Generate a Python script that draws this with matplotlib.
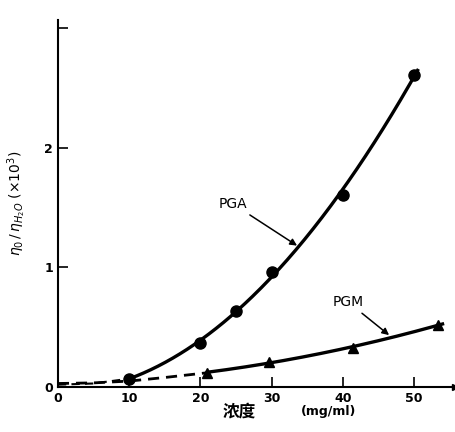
import numpy as np
import matplotlib
matplotlib.use('Agg')
import matplotlib.pyplot as plt

plt.rcParams['font.family'] = ['DejaVu Sans', 'Noto Sans CJK SC']

# data
pga_x = [10, 20, 25, 30, 40, 50]
pga_y = [0.07, 0.37, 0.64, 0.96, 1.61, 2.61]
pgm_x = [21, 29.6, 41.4, 53.4]
pgm_y = [0.12, 0.21, 0.33, 0.52]
dash_x = [0, 5, 10, 15, 21]
dash_y = [0.03, 0.035, 0.05, 0.08, 0.12]
pga_dash_x = [0, 5, 10]
pga_dash_y = [0.02, 0.03, 0.07]
xticks = [0, 10, 20, 30, 40, 50]
yticks = [0, 1, 2]

fig = plt.figure(figsize=(4.56, 4.32), dpi=100)
ax = fig.add_axes([0.127, 0.104, 0.87, 0.85])

# smooth curves through the points
c1 = np.polyfit(pga_x, pga_y, 2)
xs = np.linspace(10, 50.5, 200)
ax.plot(xs, np.polyval(c1, xs), color='black', lw=2.4)
c2 = np.polyfit(pgm_x, pgm_y, 2)
xs2 = np.linspace(21, 54, 200)
ax.plot(xs2, np.polyval(c2, xs2), color='black', lw=2.4)
ax.plot(dash_x, dash_y, color='black', lw=2, ls=(0, (4, 2.5)))
ax.plot(pga_dash_x, pga_dash_y, color='black', lw=1.5, ls=(0, (4, 2.5)))

ax.plot(pga_x, pga_y, 'o', color='black', ms=8)
ax.plot(pgm_x, pgm_y, '^', color='black', ms=7)

ax.annotate('PGA', xy=(33.9, 1.17), xytext=(22.5, 1.50), fontsize=10,
            arrowprops=dict(arrowstyle='-|>', color='black', lw=1.1))
ax.annotate('PGM', xy=(46.8, 0.42), xytext=(38.5, 0.68), fontsize=10,
            arrowprops=dict(arrowstyle='-|>', color='black', lw=1.1))

ax.set_xlim(0, 55.7)
ax.set_ylim(0, 3.07)
ax.set_xticks(xticks)
ax.set_yticks(yticks + [3])
ax.set_yticklabels([str(v) for v in yticks] + [''])
ax.tick_params(direction='in', length=7, width=1.2, labelsize=9)
for lab in ax.get_xticklabels() + ax.get_yticklabels():
    lab.set_fontweight('bold')
ax.spines['top'].set_visible(False)
ax.spines['right'].set_visible(False)
ax.spines['left'].set_linewidth(1.5)
ax.spines['bottom'].set_linewidth(1.5)
ax.plot(1, 0, '>', color='black', ms=5, transform=ax.transAxes, clip_on=False)

ax.set_ylabel(r'$\eta_0\,/\,\eta_{H_2O}\ (\times10^3)$', fontsize=10, labelpad=12)
fig.text(0.525, 0.035, '浓度', fontsize=12, family=['Noto Sans CJK SC'], ha='center', fontweight='bold')
fig.text(0.72, 0.04, '(mg/ml)', fontsize=9, ha='center', fontweight='bold')

fig.savefig('out.png', dpi=100)
